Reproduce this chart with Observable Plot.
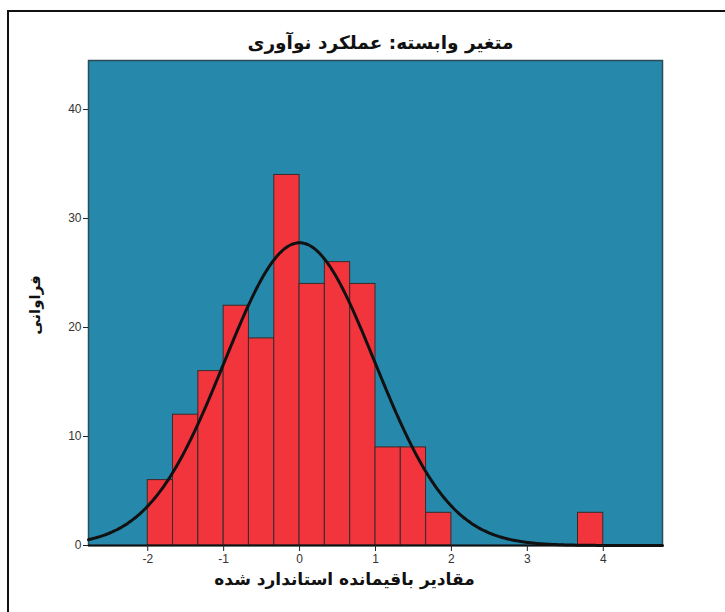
<!DOCTYPE html>
<html>
<head>
<meta charset="utf-8">
<script src="https://cdn.jsdelivr.net/npm/d3@7"></script>
<script src="https://cdn.jsdelivr.net/npm/@observablehq/plot@0.6"></script>
<style>
  html, body { margin: 0; padding: 0; background: #fff; }
  #wrap { position: relative; width: 725px; height: 612px; overflow: hidden; }
  #frame { position: absolute; left: 7px; top: 10px; width: 740px; height: 640px; border: 2px solid #111; box-sizing: border-box; pointer-events: none; }
</style>
</head>
<body>
<div id="wrap"><div id="frame"></div></div>
<script>
// Histogram bins (lower edge, in standardized residual units) and counts
const binLower = [-2.000, -1.667, -1.333, -1.000, -0.667, -0.333, 0.000, 0.333, 0.667, 1.000, 1.333, 1.667, 3.667];
const binWidth = 0.333;
const counts   = [6, 12, 16, 22, 19, 34, 24, 26, 24, 9, 9, 3, 3];

// Fitted normal curve parameters (as reported by the chart)
const curveMean = 0.0;
const curveSD = 0.99;
const curveN = 207;

const xTicks = [-2, -1, 0, 1, 2, 3, 4];
const yTicks = [0, 10, 20, 30, 40];

const titleText = "متغیر وابسته: عملکرد نوآوری";
const xLabel = "مقادیر باقیمانده استاندارد شده";
const yLabel = "فراوانی";

const xDomain = [-2.78, 4.78];
const yDomain = [0, 44.5];

const bars = binLower.map((b, i) => ({x1: b, x2: b + binWidth, y: counts[i]}));

const curveXs = d3.range(xDomain[0], xDomain[1] + 0.001, 0.02);
const peak = curveN * binWidth / (curveSD * Math.sqrt(2 * Math.PI));
const curve = curveXs.map(x => ({x, y: peak * Math.exp(-0.5 * ((x - curveMean) / curveSD) ** 2)}));

const persian = "'DejaVu Sans', 'Noto Sans', sans-serif";

const chart = Plot.plot({
  width: 725,
  height: 612,
  marginLeft: 88,
  marginRight: 63,
  marginTop: 60,
  marginBottom: 67,
  style: {fontFamily: "'Liberation Sans', Arial, sans-serif", fontSize: "12px", background: "transparent", color: "#333"},
  x: {domain: xDomain, ticks: xTicks, tickSize: 6, tickPadding: 3, label: null, tickFormat: d => String(d)},
  y: {domain: yDomain, ticks: yTicks, tickSize: 5, tickPadding: 2, label: null, tickFormat: d => String(d)},
  marks: [
    Plot.frame({fill: "#2689ab", stroke: "#2b4b58", strokeWidth: 1.5}),
    Plot.rectY(bars, {x1: "x1", x2: "x2", y: "y", fill: "#f2343c", stroke: "#3a2a2a", strokeWidth: 1}),
    Plot.line(curve, {x: "x", y: "y", stroke: "#111", strokeWidth: 3, curve: "basis"}),
    Plot.ruleY([0], {stroke: "#111", strokeWidth: 2}),
    Plot.axisX({ticks: xTicks, tickSize: 6, tickPadding: 3, stroke: "#222", fill: "#333", tickFormat: d => String(d)}),
    Plot.axisY({ticks: yTicks, tickSize: 5, tickPadding: 2, stroke: "#222", fill: "#333", tickFormat: d => String(d)}),
    Plot.text([titleText], {frameAnchor: "top", dy: -17, dx: 5, textAnchor: "middle", lineAnchor: "middle", fontSize: 18.5, fontWeight: "bold", fontFamily: persian, fill: "#111"}),
    Plot.text([xLabel], {frameAnchor: "bottom", dy: 34, dx: -31, textAnchor: "middle", lineAnchor: "middle", fontSize: 17, fontWeight: "bold", fontFamily: persian, fill: "#111"}),
    Plot.text([yLabel], {frameAnchor: "left", dx: -53, dy: 2, rotate: -90, textAnchor: "middle", lineAnchor: "middle", fontSize: 15, fontWeight: "bold", fontFamily: persian, fill: "#111"})
  ]
});
document.getElementById("wrap").prepend(chart);
chart.style.position = "absolute";
chart.style.left = "0px";
chart.style.top = "0px";
</script>
</body>
</html>
